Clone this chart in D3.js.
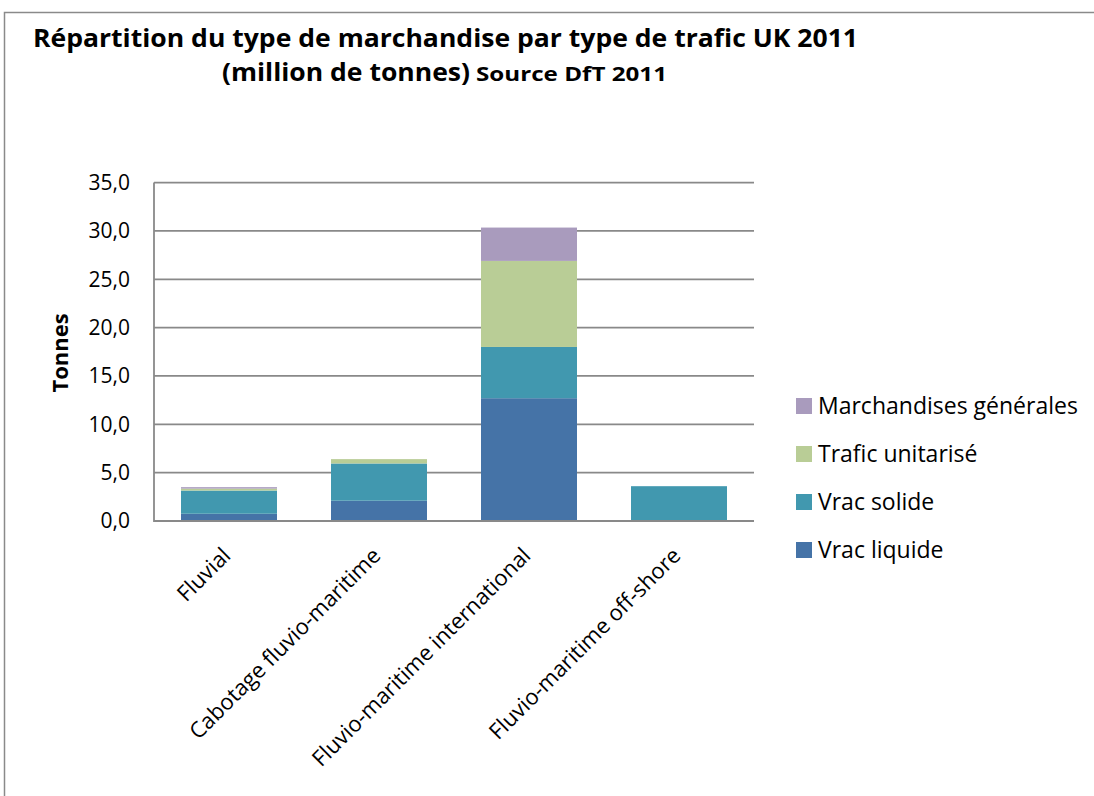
<!DOCTYPE html>
<html>
<head>
<meta charset="utf-8">
<script src="https://cdn.jsdelivr.net/npm/d3@7"></script>
<style>
  body { margin: 0; background: #fff; }
  text { font-family: "Open Sans", "Noto Sans", sans-serif; fill: #000; }
</style>
</head>
<body>
<svg id="chart" width="1094" height="796"></svg>
<script>
// Categories and series (million de tonnes)
var categories = ['Fluvial', 'Cabotage fluvio-maritime', 'Fluvio-maritime international', 'Fluvio-maritime off-shore'];
var seriesNames = ['Vrac liquide', 'Vrac solide', 'Trafic unitarisé', 'Marchandises générales'];
var vracLiquide = [0.75, 2.1, 12.7, 0];
var vracSolide = [2.4, 3.85, 5.3, 3.6];
var traficUnitarise = [0.2, 0.45, 8.9, 0];
var marchandisesGenerales = [0.15, 0, 3.45, 0];
var yTicks = [0, 5, 10, 15, 20, 25, 30, 35];
var colors = ['#4573a7', '#4198af', '#b9cd96', '#a99bbd'];

var svg = d3.select('#chart');

// Chart frame
svg.append('path')
  .attr('d', 'M4.5,796 L4.5,12.5 L1094,12.5')
  .attr('fill', 'none')
  .attr('stroke', '#8a8a8a')
  .attr('stroke-width', 1.5);

// Title
var title = svg.append('g').attr('font-weight', 'bold');
title.append('text')
  .attr('x', 33).attr('y', 47)
  .attr('font-size', 25)
  .attr('textLength', 825)
  .attr('lengthAdjust', 'spacingAndGlyphs')
  .text('Répartition du type de marchandise par type de trafic UK 2011');
title.append('text')
  .attr('x', 222).attr('y', 81)
  .attr('font-size', 25)
  .attr('textLength', 248)
  .attr('lengthAdjust', 'spacingAndGlyphs')
  .text('(million de tonnes)');
title.append('text')
  .attr('x', 476).attr('y', 81)
  .attr('font-size', 19)
  .attr('textLength', 191)
  .attr('lengthAdjust', 'spacingAndGlyphs')
  .text('Source DfT 2011');

// Plot area
var plotLeft = 154, plotRight = 754, plotTop = 182.6, plotBottom = 521;

var x = d3.scaleBand().domain(categories).range([plotLeft, plotRight]).paddingInner(0.36).paddingOuter(0.18);
var y = d3.scaleLinear().domain([0, 35]).range([plotBottom, plotTop]);

// Gridlines
svg.append('g')
  .selectAll('line')
  .data(yTicks)
  .enter().append('line')
    .attr('x1', plotLeft).attr('x2', plotRight)
    .attr('y1', function(d) { return y(d); })
    .attr('y2', function(d) { return y(d); })
    .attr('stroke', '#898989')
    .attr('stroke-width', 1.8);

// Stacked bars
var rows = categories.map(function(c, i) {
  return { cat: c, s0: vracLiquide[i], s1: vracSolide[i], s2: traficUnitarise[i], s3: marchandisesGenerales[i] };
});
var stack = d3.stack().keys(['s0', 's1', 's2', 's3']);
var layers = stack(rows);

svg.append('g')
  .selectAll('g')
  .data(layers)
  .enter().append('g')
    .attr('fill', function(d, i) { return colors[i]; })
  .selectAll('rect')
  .data(function(d) { return d.filter(function(p) { return p[1] - p[0] > 0; }); })
  .enter().append('rect')
    .attr('x', function(d) { return x(d.data.cat); })
    .attr('width', x.bandwidth())
    .attr('y', function(d) { return y(d[1]); })
    .attr('height', function(d) { return y(d[0]) - y(d[1]); });

// Axes lines
svg.append('line')
  .attr('x1', plotLeft).attr('x2', plotLeft)
  .attr('y1', plotTop).attr('y2', plotBottom + 1)
  .attr('stroke', '#898989').attr('stroke-width', 1.8);
svg.append('line')
  .attr('x1', plotLeft).attr('x2', plotRight)
  .attr('y1', plotBottom).attr('y2', plotBottom)
  .attr('stroke', '#898989').attr('stroke-width', 1.8);

// Y tick labels
svg.append('g')
  .selectAll('text')
  .data(yTicks)
  .enter().append('text')
    .attr('x', 130)
    .attr('y', function(d) { return y(d); })
    .attr('dy', '0.35em')
    .attr('text-anchor', 'end')
    .attr('font-size', 21)
    .text(function(d) { return d3.format('.1f')(d).replace('.', ','); });

// Y axis title
svg.append('text')
  .attr('transform', 'translate(68,353) rotate(-90)')
  .attr('text-anchor', 'middle')
  .attr('font-size', 22)
  .attr('font-weight', 'bold')
  .text('Tonnes');

// X category labels, rotated
svg.append('g')
  .selectAll('text')
  .data(categories)
  .enter().append('text')
    .attr('transform', function(d) {
      return 'translate(' + (x(d) + x.bandwidth() / 2 + 3) + ',' + 557 + ') rotate(-45)';
    })
    .attr('text-anchor', 'end')
    .attr('font-size', 22)
    .text(function(d) { return d; });

// Legend (top entry = last series)
var legendY = [406, 454, 502, 550];
var legend = svg.append('g')
  .selectAll('g')
  .data(seriesNames.slice().reverse())
  .enter().append('g')
    .attr('transform', function(d, i) { return 'translate(796,' + legendY[i] + ')'; });
legend.append('rect')
  .attr('x', 0).attr('y', -8)
  .attr('width', 16).attr('height', 16)
  .attr('fill', function(d, i) { return colors[3 - i]; });
legend.append('text')
  .attr('x', 22)
  .attr('dy', '0.35em')
  .attr('font-size', 23)
  .text(function(d) { return d; });
</script>
</body>
</html>
